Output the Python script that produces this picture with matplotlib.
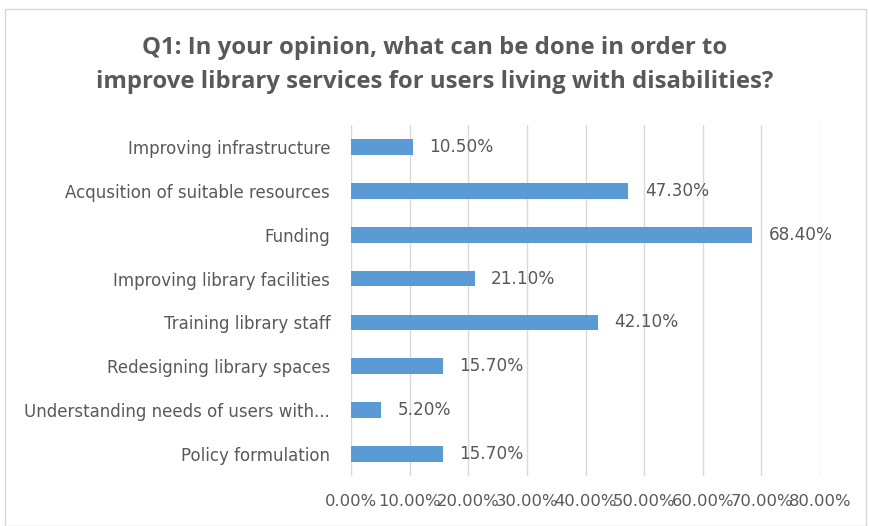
import numpy as np
import matplotlib.pyplot as plt
from matplotlib.patches import Rectangle
from matplotlib.ticker import FuncFormatter, MultipleLocator

# survey answers, top to bottom
categories = [
    "Improving infrastructure",
    "Acqusition of suitable resources",
    "Funding",
    "Improving library facilities",
    "Training library staff",
    "Redesigning library spaces",
    "Understanding needs of users with...",
    "Policy formulation",
]
shares = [10.5, 47.3, 68.4, 21.1, 42.1, 15.7, 5.2, 15.7]

txt = "#595959"
blue = "#5B9BD5"

plt.rcParams['font.family'] = ['DejaVu Sans']

fig = plt.figure(figsize=(8.7, 5.26), dpi=100)
ax = fig.add_axes([351 / 870, 1 - 476 / 526, (820 - 351) / 870, (476 - 125) / 526])

# outer frame of the chart area
fig.patches.append(Rectangle((5 / 870, 0.0), 861 / 870, 1 - 9 / 526,
                             transform=fig.transFigure, fill=False,
                             edgecolor="#D9D9D9", lw=1.0))

y = np.arange(len(categories))
ax.barh(y, shares, height=0.36, color=blue, zorder=3)
for yi, v in zip(y, shares):
    ax.text(v + 2.8, yi, f"{v:.2f}%", va="center", ha="left",
            fontsize=12.2, color=txt)

ax.set_xlim(0, 80)
ax.set_ylim(len(categories) - 0.5, -0.5)
ax.xaxis.set_major_locator(MultipleLocator(10))
ax.xaxis.set_major_formatter(FuncFormatter(lambda v, p: f"{v:.2f}%"))
ax.grid(axis="x", color="#D9D9D9", lw=1.0, zorder=0)
ax.set_yticks(y)
ax.set_yticklabels(categories, fontsize=12.0)
for s in ax.spines.values():
    s.set_visible(False)
ax.tick_params(axis="both", length=0, colors=txt)
ax.tick_params(axis="x", pad=13, labelsize=11.8)
ax.tick_params(axis="y", pad=15)

fig.text(0.5, 1 - 65 / 526, "Q1: In your opinion, what can be done in order to\n"
         "improve library services for users living with disabilities?",
         ha="center", va="center", fontsize=17.2, fontweight="bold", color=txt,
         family="Open Sans", linespacing=1.55)

fig.savefig("out.png", dpi=100)
